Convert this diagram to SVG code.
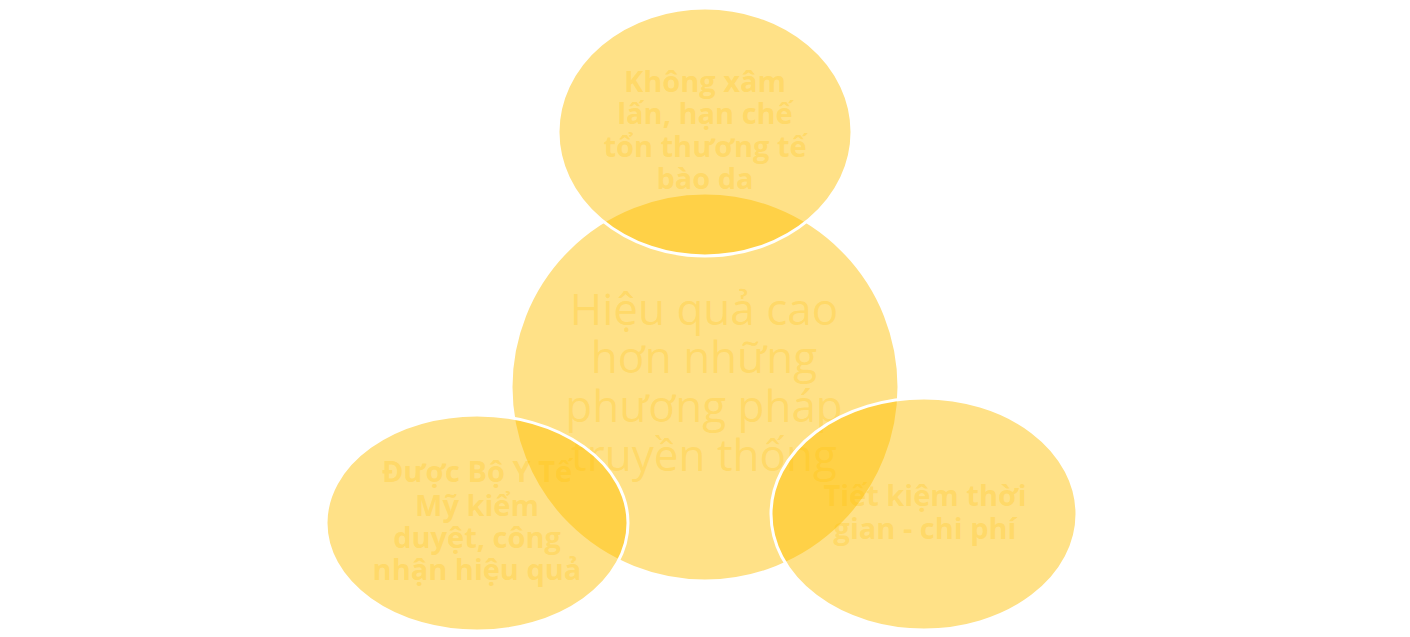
<svg xmlns="http://www.w3.org/2000/svg" width="1410" height="637" viewBox="0 0 1410 637">
<style>
.s{fill:#FFC000;fill-opacity:0.47;stroke:#FFFFFF;stroke-width:3}
.t{fill:#FFC000;fill-opacity:0.24;text-anchor:middle;font-family:"Open Sans","DejaVu Sans",sans-serif}
.b{font-weight:bold;font-size:29px}
.c{font-size:44px}
</style>
<rect width="1410" height="637" fill="#FFFFFF"/>
<g id="center">
<circle class="s" cx="705" cy="387" r="194" stroke="none"/>
<text class="t c" x="704" y="325">Hiệu quả cao</text>
<text class="t c" x="704" y="373">hơn những</text>
<text class="t c" x="704" y="422">phương pháp</text>
<text class="t c" x="704" y="471">truyền thống</text>
</g>
<g id="top">
<ellipse class="s" cx="705" cy="132" rx="147" ry="124"/>
<text class="t b" x="705" y="92">Không xâm</text>
<text class="t b" x="705" y="124">lấn, hạn chế</text>
<text class="t b" x="705" y="157">tổn thương tế</text>
<text class="t b" x="705" y="189">bào da</text>
</g>
<g id="left">
<ellipse class="s" cx="477" cy="523" rx="151" ry="108"/>
<text class="t b" x="477" y="482">Được Bộ Y Tế</text>
<text class="t b" x="477" y="516">Mỹ kiểm</text>
<text class="t b" x="477" y="548">duyệt, công</text>
<text class="t b" x="477" y="580">nhận hiệu quả</text>
</g>
<g id="right">
<ellipse class="s" cx="924" cy="514" rx="153" ry="116"/>
<text class="t b" x="925" y="506">Tiết kiệm thời</text>
<text class="t b" x="925" y="539">gian - chi phí</text>
</g>
<g id="connectors"/>
</svg>
